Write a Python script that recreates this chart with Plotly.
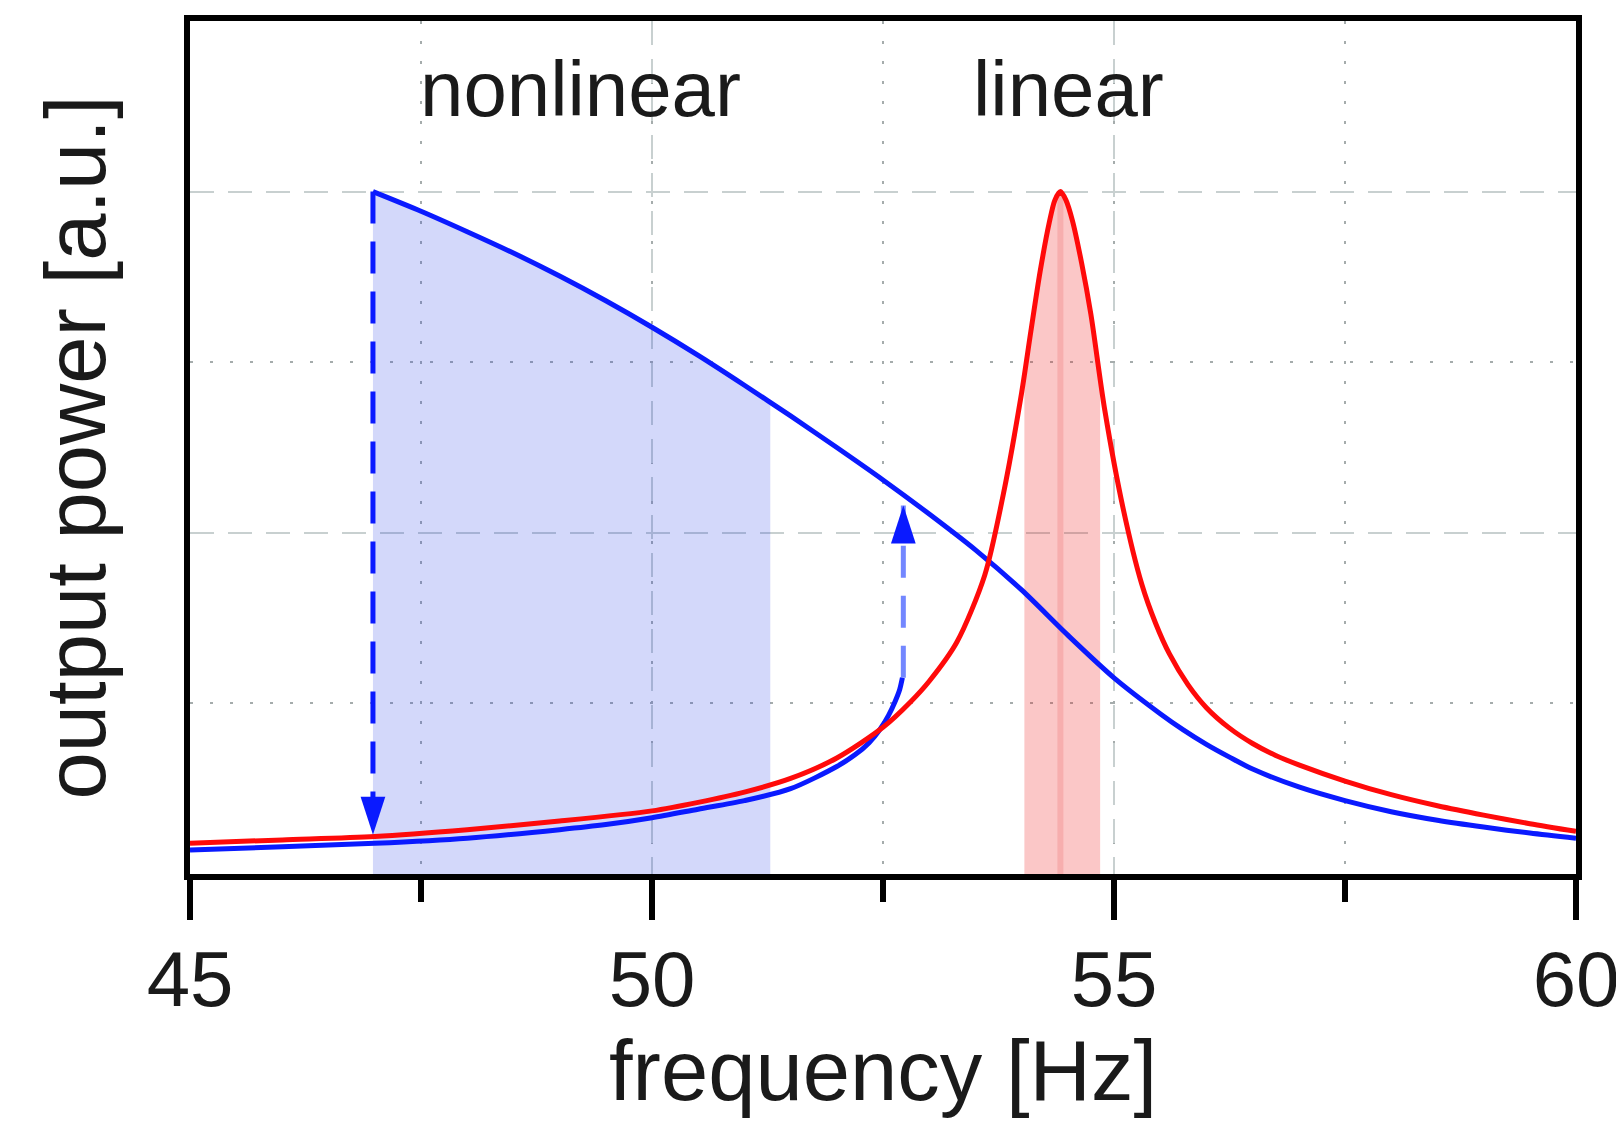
import plotly.graph_objects as go
import numpy as np

# ---------------- data ----------------
# linear resonator response (red)
lin_freq = [45.0, 46.0, 47.0, 48.0, 49.0, 50.0, 50.5, 51.0, 51.5, 52.0, 52.5, 52.8,
            53.0, 53.3, 53.6, 53.8, 54.0, 54.1, 54.2, 54.3, 54.36, 54.42, 54.48,
            54.55, 54.65, 54.75, 54.9, 55.1, 55.3, 55.45, 55.6, 55.8, 56.0, 56.25,
            56.5, 56.75, 57.0, 57.5, 58.0, 58.5, 59.0, 59.5, 60.0]
lin_power = [0.18, 0.20, 0.22, 0.26, 0.31, 0.37, 0.42, 0.48, 0.56, 0.68, 0.86, 1.01,
             1.13, 1.36, 1.75, 2.22, 2.82, 3.18, 3.53, 3.82, 3.95, 4.0, 3.95,
             3.83, 3.58, 3.28, 2.72, 2.14, 1.70, 1.47, 1.29, 1.11, 0.975, 0.855,
             0.765, 0.695, 0.64, 0.545, 0.465, 0.40, 0.345, 0.295, 0.25]

# nonlinear resonator, upper (high-amplitude) branch (blue)
nl_up_freq = [46.98, 47.5, 48.0, 48.5, 49.0, 49.5, 50.0, 50.5, 51.0, 51.5, 52.0,
              52.5, 53.0, 53.5, 54.0, 54.5, 55.0, 55.5, 55.75, 56.0, 56.25, 56.5,
              57.0, 57.5, 58.0, 58.5, 59.0, 59.5, 60.0]
nl_up_power = [4.0, 3.885, 3.765, 3.64, 3.505, 3.36, 3.205, 3.04, 2.865, 2.685, 2.50,
               2.31, 2.11, 1.90, 1.665, 1.40, 1.15, 0.94, 0.845, 0.76, 0.685, 0.615,
               0.51, 0.43, 0.365, 0.315, 0.275, 0.24, 0.21]

# nonlinear resonator, lower (low-amplitude) branch (blue)
nl_low_freq = [45.0, 46.0, 47.0, 48.0, 49.0, 49.5, 50.0, 50.5, 51.0, 51.5, 52.0,
               52.2, 52.35, 52.47, 52.56, 52.63, 52.68, 52.71]
nl_low_power = [0.14, 0.16, 0.18, 0.21, 0.26, 0.29, 0.33, 0.38, 0.43, 0.50, 0.63,
                0.70, 0.77, 0.85, 0.93, 1.01, 1.08, 1.15]

# jump-down (sweep down) and jump-up (sweep up) arrows
jump_down_freq = [46.98, 46.98]
jump_down_power = [4.0, 0.23]
jump_up_freq = [52.72, 52.72]
jump_up_power = [1.15, 2.16]

# bandwidths
nl_band = [46.98, 51.28]
lin_band = [54.03, 54.85]
lin_peak = 54.42

x_ticks = [45, 50, 55, 60]
labels = ["nonlinear", "linear"]
label_pos = [49.23, 54.51]
label_y = 4.6

BLUE = "#0a1aff"
RED = "#ff0a0a"
FONT = "Liberation Sans, Arial, Helvetica, sans-serif"
LW = 5

fig = go.Figure()

# blue shaded region under the upper branch
xs = [f for f in nl_up_freq if nl_band[0] <= f <= nl_band[1]] + [nl_band[1]]
ys = list(np.interp(xs, nl_up_freq, nl_up_power))
fig.add_trace(go.Scatter(x=xs, y=ys, mode="lines", line=dict(width=0),
                         fill="tozeroy", fillcolor="rgba(20,50,230,0.19)",
                         hoverinfo="skip", showlegend=False))

# red shaded region under the linear peak
rx = [lin_band[0]] + [f for f in lin_freq if lin_band[0] < f < lin_band[1]] + [lin_band[1]]
ry = list(np.interp(rx, lin_freq, lin_power))
fig.add_trace(go.Scatter(x=rx, y=ry, mode="lines", line=dict(width=0, shape="spline"),
                         fill="tozeroy", fillcolor="rgba(240,20,20,0.24)",
                         hoverinfo="skip", showlegend=False))
fig.add_trace(go.Scatter(x=[lin_peak, lin_peak], y=[0, max(lin_power)], mode="lines",
                         line=dict(color="rgba(235,60,60,0.18)", width=6),
                         hoverinfo="skip", showlegend=False))

# curves
fig.add_trace(go.Scatter(x=nl_low_freq, y=nl_low_power, mode="lines",
                         line=dict(color=BLUE, width=LW, shape="spline", smoothing=0.8),
                         showlegend=False))
fig.add_trace(go.Scatter(x=nl_up_freq, y=nl_up_power, mode="lines",
                         line=dict(color=BLUE, width=LW, shape="spline", smoothing=0.8),
                         showlegend=False))
fig.add_trace(go.Scatter(x=lin_freq, y=lin_power, mode="lines",
                         line=dict(color=RED, width=LW, shape="spline", smoothing=0.8),
                         showlegend=False))

# jump arrows (dashed shafts + arrow heads)
fig.add_trace(go.Scatter(x=jump_down_freq, y=jump_down_power, mode="lines",
                         line=dict(color=BLUE, width=5, dash="32px,18px"),
                         showlegend=False))
fig.add_trace(go.Scatter(x=jump_down_freq[-1:], y=jump_down_power[-1:], mode="markers",
                         marker=dict(symbol="arrow", angle=180, size=40, color=BLUE,
                                     line=dict(width=0)), showlegend=False))
fig.add_trace(go.Scatter(x=jump_up_freq, y=jump_up_power, mode="lines",
                         line=dict(color="rgba(40,70,255,0.65)", width=5, dash="32px,18px"),
                         showlegend=False))
fig.add_trace(go.Scatter(x=jump_up_freq[-1:], y=jump_up_power[-1:], mode="markers",
                         marker=dict(symbol="arrow", angle=0, size=40, color=BLUE,
                                     line=dict(width=0)), showlegend=False))

for t, xp in zip(labels, label_pos):
    fig.add_annotation(x=xp, y=label_y, text=t, showarrow=False,
                       font=dict(family=FONT, size=78, color="#1a1a1a"),
                       xanchor="center", yanchor="middle")

GRID_DASH = "rgb(200,208,208)"
GRID_DOT = "rgb(165,172,172)"

fig.update_layout(
    width=1624, height=1122,
    margin=dict(l=182, r=56, t=7, b=256),
    paper_bgcolor="white", plot_bgcolor="white",
    font=dict(family=FONT, color="#1a1a1a"),
    xaxis=dict(
        range=[45, 60], tickmode="array", tickvals=x_ticks,
        ticktext=[str(v) for v in x_ticks],
        ticks="outside", ticklen=40, tickwidth=6, tickcolor="black",
        tickfont=dict(size=78, family=FONT, color="#1a1a1a"),
        ticklabelstandoff=-8,
        showline=True, linewidth=6, linecolor="black", mirror=True,
        showgrid=True, gridcolor=GRID_DASH, gridwidth=2, griddash="24px,14px",
        zeroline=False,
        minor=dict(dtick=2.5, tick0=45, ticks="outside", ticklen=22, tickwidth=6,
                   tickcolor="black", showgrid=True, gridcolor=GRID_DOT,
                   gridwidth=2, griddash="3px,17px"),
        title=dict(text="frequency [Hz]", standoff=7,
                   font=dict(size=85, family=FONT, color="#1a1a1a")),
    ),
    yaxis=dict(
        range=[0, 5], tick0=0, dtick=2, ticks="", showticklabels=False,
        showline=True, linewidth=6, linecolor="black", mirror=True,
        showgrid=True, gridcolor=GRID_DASH, gridwidth=2, griddash="24px,14px",
        zeroline=False,
        minor=dict(dtick=1, tick0=0, ticks="", showgrid=True, gridcolor=GRID_DOT,
                   gridwidth=2, griddash="3px,17px"),
        title=dict(text="output power [a.u.]", standoff=52,
                   font=dict(size=85, family=FONT, color="#1a1a1a")),
    ),
)

fig.write_html("out.html")
